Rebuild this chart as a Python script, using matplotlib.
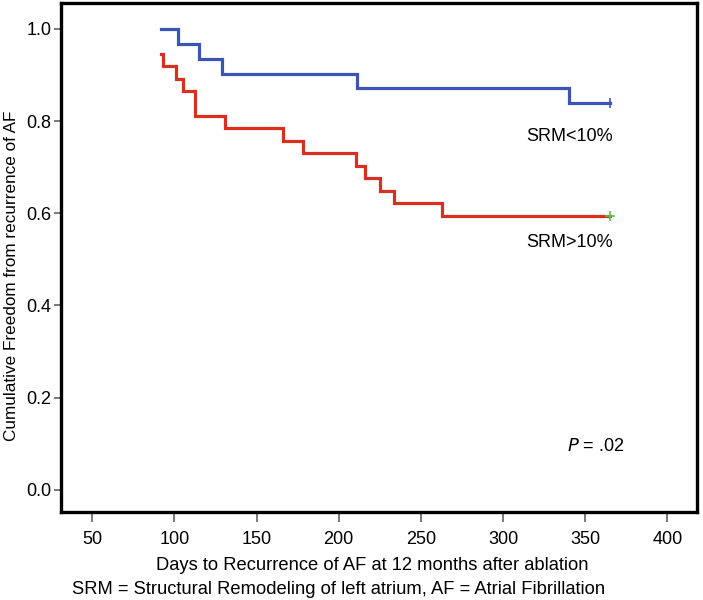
import matplotlib
matplotlib.use("Agg")
import matplotlib.pyplot as plt

plt.rcParams['font.family'] = ['Liberation Sans', 'DejaVu Sans']

# Kaplan-Meier step data
blue_days = [92, 102, 115, 129, 211, 340, 365]
blue_surv = [1.0, 0.968, 0.935, 0.903, 0.871, 0.839, 0.839]

red_days = [92, 93, 101, 105.5, 112.5, 131, 166, 178, 210.5, 216, 225, 233.5, 263, 365]
red_surv = [0.946, 0.919, 0.892, 0.865, 0.811, 0.784, 0.757, 0.730, 0.703, 0.676,
            0.649, 0.622, 0.595, 0.595]

x_ticks = [50, 100, 150, 200, 250, 300, 350, 400]
y_ticks = [0.0, 0.2, 0.4, 0.6, 0.8, 1.0]

W, H = 703, 600
fig = plt.figure(figsize=(W / 100, H / 100), dpi=100)
ax = fig.add_axes([61 / W, 1 - 512 / H, (697 - 61) / W, (512 - 3) / H])

blue = '#3a55b5'
red = '#d8301f'
ax.step(blue_days, blue_surv, where='post', color=blue, lw=2.3, solid_joinstyle='miter')
ax.step(red_days, red_surv, where='post', color=red, lw=2.3, solid_joinstyle='miter')
ax.plot([blue_days[-1]], [blue_surv[-1]], marker='|', color=blue, ms=7, mew=1.2)
ax.plot([red_days[-1]], [red_surv[-1]], marker='+', color='#5cc04a', ms=7, mew=1.2)

ax.set_xlim(31, 418)
ax.set_ylim(-0.048, 1.056)
ax.set_xticks(x_ticks)
ax.set_xticklabels([str(v) for v in x_ticks])
ax.set_yticks(y_ticks)
ax.set_yticklabels([f"{v:.1f}" for v in y_ticks])
ax.tick_params(axis='x', direction='out', length=7.5, width=1.1, color='#555555',
               labelsize=13, pad=6)
ax.tick_params(axis='y', direction='out', length=5, width=1.1, color='#555555',
               labelsize=13, pad=2)
for s in ax.spines.values():
    s.set_linewidth(2.4)
    s.set_color('black')

ax.text(314, 0.766, 'SRM<10%', fontsize=13, va='center', ha='left')
ax.text(314, 0.536, 'SRM>10%', fontsize=13, va='center', ha='left')
ax.text(338.7, 0.094, r'$\it{P}$ = .02', fontsize=13, va='center', ha='left')

fig.text(12 / W, 1 - 276 / H, 'Cumulative Freedom from recurrence of AF', rotation=90,
         fontsize=12.3, va='center', ha='center')
fig.text(372 / W, 1 - 566 / H, 'Days to Recurrence of AF at 12 months after ablation',
         fontsize=13.2, va='center', ha='center')
fig.text(339 / W, 1 - 589 / H,
         'SRM = Structural Remodeling of left atrium, AF = Atrial Fibrillation',
         fontsize=13.2, va='center', ha='center')

fig.savefig('out.png', dpi=100)
